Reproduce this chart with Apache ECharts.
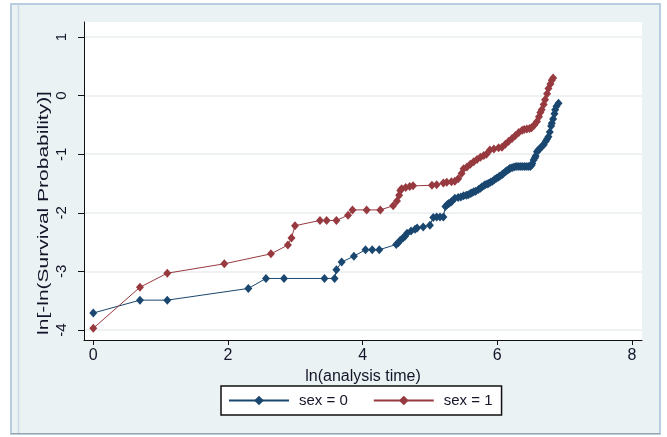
<!DOCTYPE html>
<html>
<head>
<meta charset="utf-8">
<script src="https://cdn.jsdelivr.net/npm/echarts@6/dist/echarts.min.js"></script>
<style>
  html, body { margin: 0; padding: 0; background: #ffffff; }
  #chart { width: 667px; height: 437px; }
</style>
</head>
<body>
<div id="chart"></div>
<script>
// ---- data ----
var xTicks = [0, 2, 4, 6, 8];
var yTicks = [-4, -3, -2, -1, 0, 1];
var seriesNames = ['sex = 0', 'sex = 1'];

var sex0X = [0, 0.693, 1.099, 2.303, 2.565, 2.833, 3.434, 3.584, 3.611, 3.689, 3.871, 4.043, 4.143, 4.248,
  4.50, 4.53, 4.56, 4.60, 4.63, 4.66, 4.72, 4.78, 4.81, 4.90, 5.00, 5.05, 5.10, 5.15, 5.20, 5.23, 5.26, 5.28, 5.31, 5.33, 5.37, 5.42, 5.46, 5.50, 5.54, 5.57,
  5.60, 5.62, 5.65, 5.68, 5.72, 5.75, 5.77, 5.80, 5.82, 5.85, 5.87, 5.90, 5.93, 5.96, 5.99, 6.02, 6.04, 6.07, 6.09, 6.12, 6.14, 6.17, 6.19, 6.22, 6.25, 6.28, 6.31, 6.34, 6.37, 6.40, 6.43, 6.46, 6.49,
  6.51, 6.52, 6.54, 6.56, 6.57, 6.59, 6.61, 6.63, 6.66, 6.69, 6.72, 6.74, 6.76, 6.78, 6.80, 6.81, 6.83, 6.85, 6.86, 6.88, 6.91];
var sex0Y = [-3.71, -3.49, -3.49, -3.29, -3.12, -3.12, -3.12, -3.12, -2.97, -2.84, -2.74, -2.63, -2.63, -2.63,
  -2.54, -2.51, -2.47, -2.43, -2.40, -2.35, -2.31, -2.28, -2.26, -2.24, -2.21, -2.08, -2.07, -2.07, -2.07, -1.89, -1.86, -1.84, -1.82, -1.80, -1.75, -1.74, -1.73, -1.71, -1.70, -1.69,
  -1.67, -1.66, -1.64, -1.63, -1.60, -1.58, -1.56, -1.54, -1.52, -1.51, -1.50, -1.48, -1.46, -1.43, -1.41, -1.39, -1.37, -1.35, -1.33, -1.30, -1.28, -1.26, -1.24, -1.23, -1.22, -1.21, -1.21, -1.21, -1.21, -1.21, -1.21, -1.21, -1.21,
  -1.19, -1.16, -1.10, -1.06, -1.03, -0.96, -0.93, -0.91, -0.87, -0.84, -0.78, -0.74, -0.70, -0.62, -0.52, -0.47, -0.40, -0.31, -0.24, -0.18, -0.13];

var sex1X = [0, 0.693, 1.099, 1.946, 2.639, 2.890, 2.944, 2.996, 3.367, 3.466, 3.611, 3.784, 3.850, 4.060, 4.263,
  4.454, 4.51, 4.543, 4.56, 4.58, 4.64, 4.70, 4.75, 5.03, 5.10, 5.20, 5.25, 5.32, 5.37, 5.42, 5.47, 5.50, 5.55, 5.60, 5.65,
  5.70, 5.75, 5.80, 5.84, 5.89, 5.95, 6.02, 6.07, 6.12, 6.17, 6.22, 6.27, 6.32, 6.37, 6.40, 6.44, 6.48, 6.51, 6.55, 6.59,
  6.62, 6.64, 6.66, 6.69, 6.71, 6.74, 6.76, 6.79, 6.81, 6.83];
var sex1Y = [-3.97, -3.27, -3.03, -2.87, -2.70, -2.55, -2.43, -2.22, -2.13, -2.13, -2.13, -2.04, -1.95, -1.95, -1.95,
  -1.88, -1.80, -1.70, -1.62, -1.59, -1.57, -1.55, -1.54, -1.53, -1.52, -1.49, -1.48, -1.47, -1.46, -1.42, -1.33, -1.25, -1.22, -1.17, -1.13,
  -1.09, -1.05, -1.02, -1.00, -0.93, -0.91, -0.89, -0.88, -0.83, -0.78, -0.73, -0.68, -0.63, -0.59, -0.58, -0.57, -0.56, -0.55, -0.50, -0.44,
  -0.36, -0.29, -0.24, -0.15, -0.07, 0.03, 0.12, 0.20, 0.26, 0.30];

function pairs(xs, ys) { return xs.map(function (x, i) { return [x, ys[i]]; }); }

var BLUE = '#1a476f';
var RED = '#973a40';
var FONT = '"Liberation Sans", Arial, sans-serif';
var TXT = '#15152a';

var chart = echarts.init(document.getElementById('chart'), null, { renderer: 'canvas' });
chart.setOption({
  backgroundColor: '#ffffff',
  animation: false,
  textStyle: { fontFamily: FONT },
  graphic: [
    { type: 'rect', z: -10, silent: true,
      shape: { x: 11, y: 4, width: 649, height: 430 },
      style: { fill: '#eaf2f3', stroke: '#b8cde0', lineWidth: 2 } },
    { type: 'line', z: -9, silent: true,
      shape: { x1: 18.5, y1: 5, x2: 18.5, y2: 433 },
      style: { stroke: '#c9d9e6', lineWidth: 1.5 } },
    { type: 'line', z: -9, silent: true,
      shape: { x1: 11, y1: 433.5, x2: 660, y2: 433.5 },
      style: { stroke: '#9aa4ab', lineWidth: 1 } },
    { type: 'text', silent: true, x: 44, y: 213, rotation: Math.PI / 2, scaleX: 1.5,
      style: { text: 'ln[-ln(Survival Probability)]', font: '14px ' + FONT, fill: TXT,
        align: 'center', verticalAlign: 'middle' } }
  ],
  grid: {
    left: 84, top: 22, right: 25, bottom: 97,
    show: true, backgroundColor: '#ffffff', borderWidth: 0
  },
  legend: {
    left: 221, top: 386,
    itemWidth: 60, itemHeight: 12, itemGap: 25,
    padding: [7, 9, 7, 7],
    backgroundColor: '#ffffff', borderColor: '#111', borderWidth: 1.5,
    textStyle: { fontSize: 15, color: TXT, fontFamily: FONT, padding: [0, 0, 0, 5] },
    data: seriesNames
  },
  xAxis: {
    type: 'value', min: -0.138, max: 8.15,
    name: 'ln(analysis time)', nameLocation: 'middle', nameGap: 18,
    nameTextStyle: { fontSize: 16, color: TXT, fontFamily: FONT },
    axisLine: { show: true, onZero: false, lineStyle: { color: '#111', width: 1 } },
    axisTick: { show: true, length: 5, customValues: xTicks, lineStyle: { color: '#111' } },
    axisLabel: { customValues: xTicks, fontSize: 16, color: TXT, margin: 8, fontFamily: FONT },
    splitLine: { show: false }
  },
  yAxis: {
    type: 'value', min: -4.17, max: 1.256, splitNumber: 5,
    axisLine: { show: true, onZero: false, lineStyle: { color: '#111', width: 1 } },
    axisTick: { show: true, length: 6, customValues: yTicks, lineStyle: { color: '#111' } },
    axisLabel: { customValues: yTicks, rotate: 90, fontSize: 15, color: TXT, margin: 15, fontFamily: FONT },
    splitLine: { show: true, lineStyle: { color: '#e8eeef', width: 1.5 } }
  },
  series: [
    { name: seriesNames[0], type: 'line', data: pairs(sex0X, sex0Y),
      symbol: 'diamond', symbolSize: [8, 9], showAllSymbol: true,
      itemStyle: { color: BLUE }, lineStyle: { color: BLUE, width: 1 } },
    { name: seriesNames[1], type: 'line', data: pairs(sex1X, sex1Y),
      symbol: 'diamond', symbolSize: [8, 9], showAllSymbol: true,
      itemStyle: { color: RED }, lineStyle: { color: RED, width: 1 } }
  ]
});
</script>
</body>
</html>
